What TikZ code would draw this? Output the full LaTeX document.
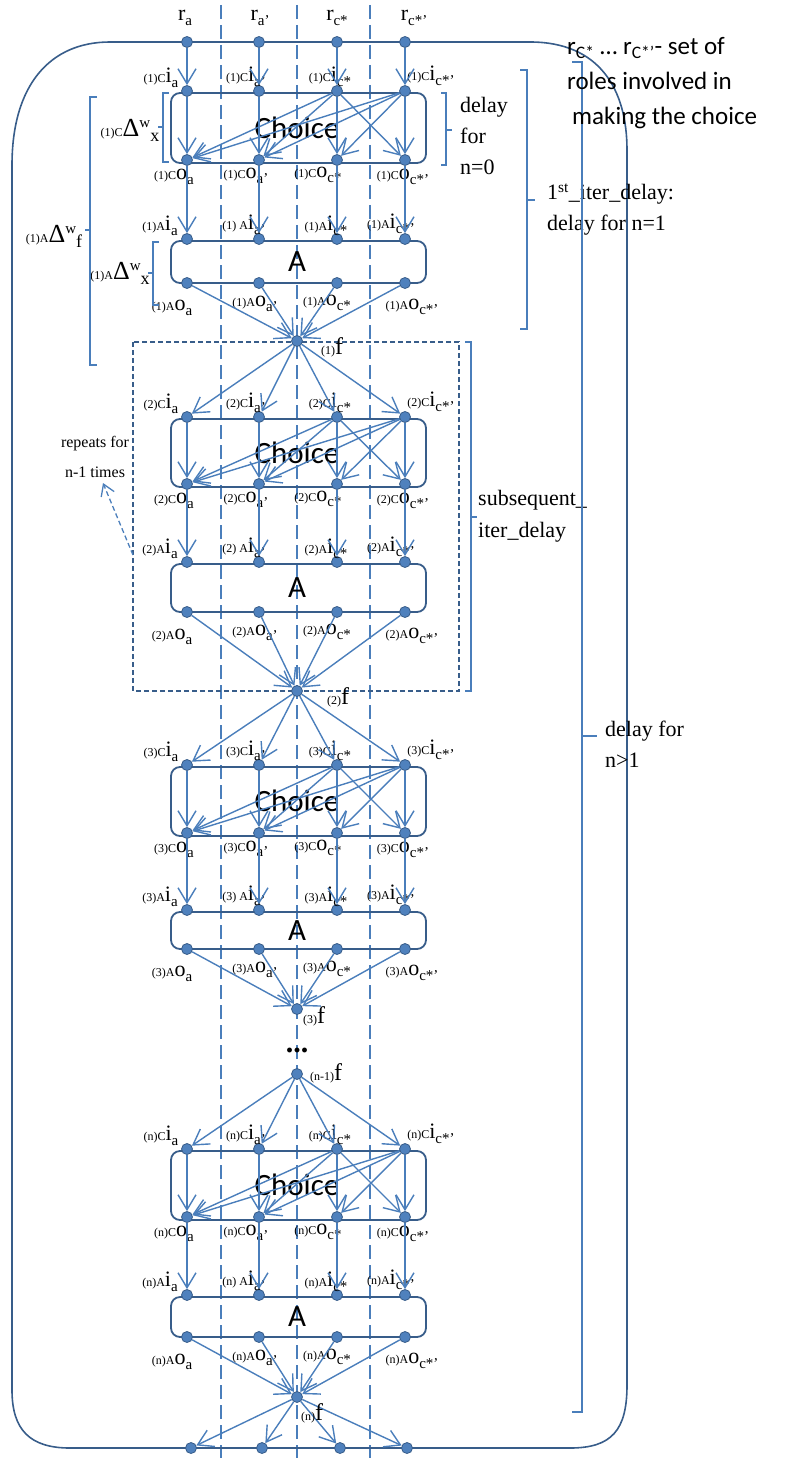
\documentclass[tikz,border=0pt]{standalone}
\usepackage{fontspec}
\setmainfont{Liberation Serif}
\newfontfamily\calfont{Carlito}
\usetikzlibrary{arrows.meta}
\definecolor{ln}{HTML}{4A7EBB}
\definecolor{dk}{HTML}{385D8A}
\definecolor{nd}{HTML}{4F81BD}
\newcommand{\fsz}[1]{\fontsize{#1}{#1}\selectfont}
\newcommand{\lb}[3]{{\fsz{12}#1}{\fsz{22}#2}\raisebox{-4.5pt}{\fsz{15}#3}}
\newcommand{\dlt}[2]{{\fsz{12}#1}{\fsz{26}Δ}\raisebox{9pt}{\fsz{15}w}\raisebox{-5pt}{\fsz{18}#2}}
\begin{document}
\begin{tikzpicture}[x=1pt,y=-1pt,
 dot/.style={circle,fill=nd,draw=dk,line width=0.8pt,inner sep=0pt,minimum size=11pt},
 arr/.style={draw=ln,line width=1.4pt,-{Straight Barb[length=15pt,width=18pt,line width=1.4pt]}},
 vdash/.style={draw=ln,line width=1.3pt,dash pattern=on 14pt off 6pt},
 box/.style={draw=dk,line width=1.8pt,rounded corners=9pt},
 brk/.style={draw=ln,line width=1.6pt},
 lab/.style={inner sep=0pt},
 rt/.style={inner sep=0pt,anchor=base west,font=\fsz{22}},
 ct/.style={inner sep=0pt,anchor=base west,font=\calfont\fsz{25}},
 big/.style={inner sep=0pt,font=\calfont\fsz{31}}]
\useasboundingbox (0,0) rectangle (785,1463);

% dashed column separators
\foreach \x in {221,297,370} \draw[vdash] (\x,5) -- (\x,1458);

% big rounded frame
\draw[dk,line width=1.6pt] (110,42) -- (530,42) .. controls (600,42) and (627,90) .. (627,150)
  -- (627,1385) .. controls (627,1430) and (612,1448) .. (570,1448) -- (70,1448)
  .. controls (30,1448) and (12,1430) .. (12,1390) -- (12,165)
  .. controls (12,85) and (50,42) .. (110,42) -- cycle;

% dashed repeat rectangle
\draw[dk,line width=1.4pt,dash pattern=on 5pt off 3pt] (133,342) rectangle (459,691);

% top role nodes
\foreach \cc/\x/\ssub/\lx in {a/187/a/185, b/259/a’/260, c/337/c*/337, d/405/c*’/414}{
  \node[dot] (R\cc) at (\x,42) {};
  \node[lab] at (\lx,18) {\lb{}{r}{\ssub}};
}
% bottom nodes
\foreach \cc/\x in {a/191, b/262, c/340, d/407} \node[dot] (B\cc) at (\x,1448) {};

% blocks
\foreach \bk/\ci/\co/\ai/\ao/\fy in {1/91/160/239/283/341, 2/417/484/562/612/691, 3/765/833/910/949/1009, n/1149/1217/1295/1337/1397}{
  \draw[box] (171,\ci+2) rectangle (426,\co+3);
  \draw[box] (171,\ai+2) rectangle (426,\ao);
  \node[big] (ch\bk) at (297,{(\ci+\co)/2+2}) {Choice};
  \node[big] (A\bk) at (297,{(\ai+\ao)/2+1}) {A};
  \foreach \cc/\x/\ssub/\spc/\cix/\ciy/\cox/\coy/\aix/\aiy/\aox/\aoy in {
      a/187/a/{}/-26/-13/-13/17/-27/-13/-15/25,
      b/259/a’/{\ }/-13/-14/-13/16/-15/-14/-4/21,
      c/337/c*/{}/-7/-14/-19/15/-11/-13/-10/20,
      d/405/c*’/{}/26/-15/-2/17/-14/-15/7/24}{
    \node[dot] (Ci\bk\cc) at (\x,\ci) {};
    \node[dot] (Co\bk\cc) at (\x,\co) {};
    \node[dot] (Ai\bk\cc) at (\x,\ai) {};
    \node[dot] (Ao\bk\cc) at (\x,\ao) {};
    \node[lab] at (\x+\cix,\ci+\ciy) {\lb{(\bk)C}{i}{\ssub}};
    \node[lab] at (\x+\cox,\co+\coy) {\lb{(\bk)C}{o}{\ssub}};
    \node[lab] at (\x+\aix,\ai+\aiy) {\lb{(\bk)\spc A}{i}{\ssub}};
    \node[lab] at (\x+\aox,\ao+\aoy) {\lb{(\bk)A}{o}{\ssub}};
  }
  \node[dot] (f\bk) at (297,\fy) {};
  \foreach \cc in {a,b,c,d}{
    \draw[arr] (Ci\bk\cc) -- (Co\bk\cc);
    \draw[arr] (Co\bk\cc) -- (Ai\bk\cc);
    \draw[arr] (Ao\bk\cc) -- (f\bk);
  }
  \foreach \sa/\ta in {c/a,c/b,c/d,d/a,d/b,d/c} \draw[arr] (Ci\bk\sa) -- (Co\bk\ta);
}
\node[dot] (fm) at (297,1074) {};

\foreach \cc in {a,b,c,d}{
  \draw[arr] (R\cc) -- (Ci1\cc);
  \draw[arr] (f1) -- (Ci2\cc);
  \draw[arr] (f2) -- (Ci3\cc);
  \draw[arr] (fm) -- (Cin\cc);
  \draw[arr] (fn) -- (B\cc);
}

% f labels
\node[lab] at (332,347) {{\fsz{12}(1)}{\fsz{24}f}};
\node[lab] at (338,697) {{\fsz{12}(2)}{\fsz{24}f}};
\node[lab] at (314,1016) {{\fsz{12}(3)}{\fsz{24}f}};
\node[lab] at (326,1073) {{\fsz{12}(n-1)}{\fsz{24}f}};
\node[lab] at (312,1413) {{\fsz{12}(n)}{\fsz{24}f}};
\node[lab,font=\fsz{30}\bfseries] at (297,1050) {...};

% left brackets
\draw[brk] (169,93) -- (163,93) -- (163,162) -- (169,162);
\draw[brk] (163,127) -- (158,127);
\node[lab] at (130,130) {\dlt{(1)C}{x}};
\draw[brk] (159,242) -- (153,242) -- (153,305) -- (159,305);
\draw[brk] (153,273) -- (148,273);
\node[lab] at (120,273) {\dlt{(1)A}{x}};
\draw[brk] (97,97) -- (90,97) -- (90,365) -- (97,365);
\draw[brk] (90,230) -- (85,230);
\node[lab] at (54,236) {\dlt{(1)A}{f}};

% right brackets
\draw[brk] (441,93) -- (446,93) -- (446,165) -- (441,165);
\draw[brk] (446,130) -- (452,130);
\node[rt] at (460,113) {delay};
\node[rt] at (460,144) {for};
\node[rt] at (460,175) {n=0};
\draw[brk] (520,70) -- (527,70) -- (527,329) -- (520,329);
\draw[brk] (527,200) -- (535,200);
\node[rt] at (547,200) {1\textsuperscript{st}\_iter\_delay:};
\node[rt] at (547,231) {delay for n=1};
\draw[brk] (465,342) -- (471,342) -- (471,691) -- (465,691);
\draw[brk] (471,517) -- (477,517);
\node[rt] at (478,505) {subsequent\_};
\node[rt] at (478,537) {iter\_delay};
\draw[brk] (572,62) -- (582,62) -- (582,1412) -- (572,1412);
\draw[brk] (582,736) -- (597,736);
\node[rt] at (605,736) {delay for};
\node[rt] at (605,767) {n>1};

% right explanatory text
\node[ct] at (567,55) {r\textsubscript{C*} … r\textsubscript{C*’}- set of};
\node[ct] at (567,90) {roles involved in};
\node[ct] at (572,125) {making the choice};

% repeats note
\node[lab,anchor=base,font=\fsz{16}] at (95,447) {repeats for};
\node[lab,anchor=base,font=\fsz{16}] at (95,477) {n-1 times};
\coordinate (rpS) at (133,555);
\coordinate (rpE) at (103,483);
\draw[draw=ln,line width=1.3pt,dash pattern=on 5pt off 3pt,-{Straight Barb[length=11pt,width=14pt,line width=1.3pt]}] (rpS) -- (rpE);
\end{tikzpicture}
\end{document}
